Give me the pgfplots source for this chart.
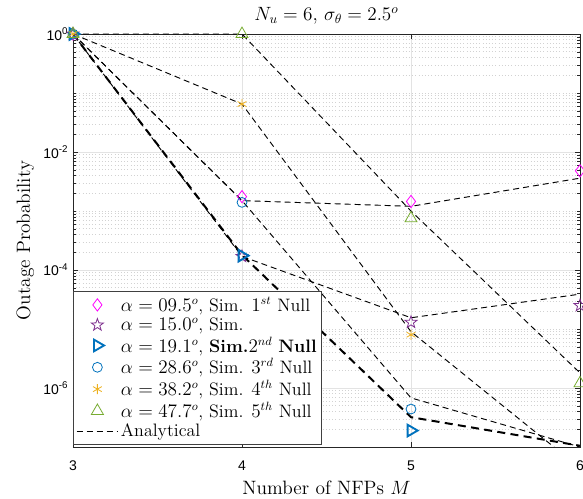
\documentclass[border=0pt]{standalone}
\usepackage{fontspec}
\usepackage{pgfplots}
\pgfplotsset{compat=1.18}
\newfontfamily\tickfont{Liberation Sans}
\definecolor{mblue}{rgb}{0,0.447,0.741}
\definecolor{morange}{rgb}{0.929,0.694,0.125}
\definecolor{mpurple}{rgb}{0.494,0.184,0.556}
\definecolor{mgreen}{rgb}{0.466,0.674,0.188}
\definecolor{mmag}{rgb}{1,0,1}
\pgfdeclareplotmark{pentagram}{%
 \pgfpathmoveto{\pgfpointpolar{90}{\pgfplotmarksize}}%
 \pgfpathlineto{\pgfpointpolar{126}{0.4\pgfplotmarksize}}%
 \pgfpathlineto{\pgfpointpolar{162}{\pgfplotmarksize}}%
 \pgfpathlineto{\pgfpointpolar{198}{0.4\pgfplotmarksize}}%
 \pgfpathlineto{\pgfpointpolar{234}{\pgfplotmarksize}}%
 \pgfpathlineto{\pgfpointpolar{270}{0.4\pgfplotmarksize}}%
 \pgfpathlineto{\pgfpointpolar{306}{\pgfplotmarksize}}%
 \pgfpathlineto{\pgfpointpolar{342}{0.4\pgfplotmarksize}}%
 \pgfpathlineto{\pgfpointpolar{18}{\pgfplotmarksize}}%
 \pgfpathlineto{\pgfpointpolar{54}{0.4\pgfplotmarksize}}%
 \pgfpathclose\pgfusepathqstroke}
\begin{document}
\begin{tikzpicture}
\begin{axis}[
 scale only axis, width=380.25pt, height=309.75pt,
 ymode=log, xmin=3, xmax=6, ymin=1e-7, ymax=1,
 xtick={3,4,5,6}, xticklabels={3,4,5,6},
 ytick={1e-6,1e-4,1e-2,1},
 yticklabels={10\textsuperscript{-6},10\textsuperscript{-4},10\textsuperscript{-2},10\textsuperscript{0}},
 minor ytick={1e-7,2e-7,3e-7,4e-7,5e-7,6e-7,7e-7,8e-7,9e-7,
  2e-6,3e-6,4e-6,5e-6,6e-6,7e-6,8e-6,9e-6,
  1e-5,2e-5,3e-5,4e-5,5e-5,6e-5,7e-5,8e-5,9e-5,
  2e-4,3e-4,4e-4,5e-4,6e-4,7e-4,8e-4,9e-4,
  1e-3,2e-3,3e-3,4e-3,5e-3,6e-3,7e-3,8e-3,9e-3,
  2e-2,3e-2,4e-2,5e-2,6e-2,7e-2,8e-2,9e-2,
  1e-1,2e-1,3e-1,4e-1,5e-1,6e-1,7e-1,8e-1,9e-1},
 grid=both,
 major grid style={gray!22, line width=0.5pt},
 minor grid style={gray!35, dotted, line width=0.5pt},
 axis line style={black!85, line width=0.6pt},
 major tick length=4pt, minor tick length=2pt,
 tick style={black!85},
 tick label style={font=\tickfont\fontsize{10.5}{12}\selectfont},
 xticklabel style={yshift=-7pt},
 label style={font=\fontsize{14.5}{17}\selectfont},
 xlabel style={at={(axis description cs:0.5,0)}, anchor=base, yshift=-36pt},
 title style={font=\fontsize{14.5}{17}\selectfont, yshift=-2pt},
 title={$N_u = 6$, $\sigma_\theta = 2.5^o$},
 xlabel={Number of NFPs $M$},
 ylabel={Outage Probability},
 legend style={at={(axis cs:3,1e-7)}, anchor=south west, yshift=1.5pt,
   draw=black!75, line width=0.6pt, fill=white,
   font=\fontsize{13.5}{16}\selectfont,
   inner xsep=2pt, inner ysep=2.5pt,
   nodes={inner sep=1.7pt}},
 legend cell align=left,
 legend image code/.code={\draw[mark repeat=2,mark phase=2,#1] plot coordinates {(0cm,0cm) (0.55cm,0cm) (1.1cm,0cm)};},
]
% Analytical curves
\addplot[forget plot, black, line width=0.7pt, dash pattern=on 4.5pt off 3pt] coordinates {(3,1) (4,1.5e-3) (5,1.2e-3) (6,3.6e-3)};
\addplot[forget plot, black, line width=0.7pt, dash pattern=on 4.5pt off 3pt] coordinates {(3,1) (4,1.7e-4) (5,1.55e-5) (6,3.9e-5)};
\addplot[forget plot, black, line width=1.5pt, dash pattern=on 6pt off 4pt] coordinates {(3,1) (4,1.8e-4) (5,3.2e-7) (6,1.05e-7)};
\addplot[forget plot, black, line width=0.7pt, dash pattern=on 4.5pt off 3pt] coordinates {(3,1) (4,1.5e-3) (5,6.8e-7) (6,1.0e-7)};
\addplot[forget plot, black, line width=0.7pt, dash pattern=on 4.5pt off 3pt] coordinates {(3,1) (4,6.5e-2) (5,9e-6) (6,4.4e-8)};
\addplot[forget plot, black, line width=0.7pt, dash pattern=on 4.5pt off 3pt] coordinates {(3,1) (4,1) (5,1e-3) (6,1.8e-6)};
% Simulations
\addplot[only marks, mmag, mark=diamond, mark size=4.6pt, line width=0.6pt] coordinates {(3,1) (4,1.75e-3) (5,1.45e-3) (6,4.8e-3)};
\addlegendentry{$\alpha = 09.5^o$, Sim. $1^{st}$ Null}
\addplot[only marks, mpurple, mark=pentagram, mark size=4.8pt, line width=0.6pt] coordinates {(3,1) (4,1.7e-4) (5,1.3e-5) (6,2.5e-5)};
\addlegendentry{$\alpha = 15.0^o$, Sim.}
\addplot[only marks, mblue, mark=triangle, mark size=5pt, line width=1.4pt, mark options={rotate=-90}] coordinates {(3,1) (4,1.75e-4) (5,1.9e-7)};
\addlegendentry{$\alpha = 19.1^o$, \textbf{Sim.}$2^{nd}$ \textbf{Null}}
\addplot[only marks, mblue, mark=o, mark size=3.7pt, line width=0.6pt] coordinates {(3,1) (4,1.4e-3) (5,4.4e-7)};
\addlegendentry{$\alpha = 28.6^o$, Sim. $3^{rd}$ Null}
\addplot[only marks, morange, mark=asterisk, mark size=3.8pt, line width=0.6pt] coordinates {(3,1) (4,6.5e-2) (5,8e-6)};
\addlegendentry{$\alpha = 38.2^o$, Sim. $4^{th}$ Null}
\addplot[only marks, mgreen, mark=triangle, mark size=5.2pt, line width=0.6pt] coordinates {(3,1) (4,1) (5,7.5e-4) (6,1.2e-6)};
\addlegendentry{$\alpha = 47.7^o$, Sim. $5^{th}$ Null}
\addlegendimage{black, line width=0.7pt, dash pattern=on 4.5pt off 3pt, mark=none}
\addlegendentry{Analytical}
\end{axis}
\pgfresetboundingbox
\path[use as bounding box] ([xshift=-54.75pt,yshift=-39pt]current axis.south west) rectangle ([xshift=382.5pt,yshift=335.25pt]current axis.south west);
\end{tikzpicture}
\end{document}
